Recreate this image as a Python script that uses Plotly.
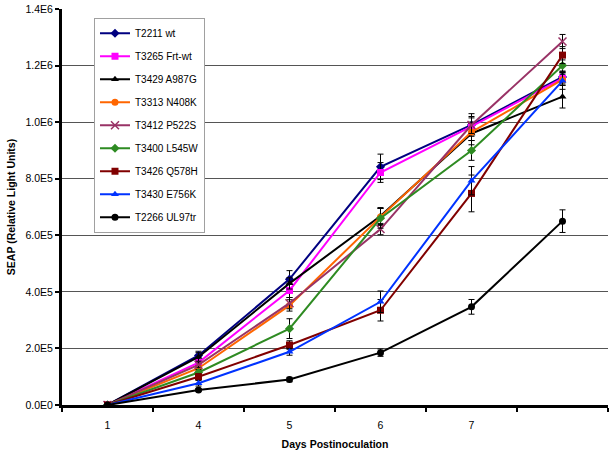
import plotly.graph_objects as go

days = [1, 4, 5, 6, 7, 8]
day_labels = ["1", "4", "5", "6", "7", ""]

names = ["T2211 wt", "T3265 Frt-wt", "T3429 A987G", "T3313 N408K", "T3412 P522S",
         "T3400 L545W", "T3426 Q578H", "T3430 E756K", "T2266 UL97tr"]

t2211 = [0, 1.75e5, 4.45e5, 8.42e5, 9.90e5, 1.160e6]
t3265 = [0, 1.50e5, 4.05e5, 8.22e5, 9.85e5, 1.155e6]
t3429 = [0, 1.70e5, 4.30e5, 6.68e5, 9.60e5, 1.090e6]
t3313 = [0, 1.30e5, 3.52e5, 6.65e5, 9.65e5, 1.150e6]
t3412 = [0, 1.42e5, 3.60e5, 6.22e5, 9.90e5, 1.285e6]
t3400 = [0, 1.15e5, 2.70e5, 6.60e5, 9.00e5, 1.200e6]
t3426 = [0, 1.00e5, 2.12e5, 3.35e5, 7.48e5, 1.237e6]
t3430 = [0, 7.7e4, 1.88e5, 3.65e5, 7.93e5, 1.146e6]
t2266 = [0, 5.3e4, 9.0e4, 1.85e5, 3.47e5, 6.50e5]

e2211 = [0, 1.5e4, 3.0e4, 4.5e4, 4.0e4, 2.0e4]
e3265 = [0, 1.0e4, 2.5e4, 3.5e4, 3.0e4, 2.0e4]
e3429 = [0, 1.5e4, 2.0e4, 3.0e4, 4.0e4, 4.0e4]
e3313 = [0, 1.0e4, 2.0e4, 3.0e4, 3.0e4, 2.0e4]
e3412 = [0, 1.0e4, 2.0e4, 2.0e4, 3.0e4, 2.5e4]
e3400 = [0, 1.0e4, 3.5e4, 3.5e4, 3.5e4, 2.0e4]
e3426 = [0, 1.0e4, 1.5e4, 3.8e4, 6.5e4, 3.0e4]
e3430 = [0, 1.0e4, 1.2e4, 3.8e4, 5.0e4, 3.0e4]
e2266 = [0, 5.0e3, 8.0e3, 1.3e4, 2.6e4, 4.0e4]

series = [t2211, t3265, t3429, t3313, t3412, t3400, t3426, t3430, t2266]
errors = [e2211, e3265, e3429, e3313, e3412, e3400, e3426, e3430, e2266]
colors = ["#000080", "#FF00FF", "#000000", "#FF6600", "#993366",
          "#2E8B22", "#800000", "#0033FF", "#000000"]
symbols = ["diamond", "square", "triangle-up", "circle", "x-thin-open",
           "diamond", "square", "triangle-up", "circle"]

y_ticks = [0, 2e5, 4e5, 6e5, 8e5, 1.0e6, 1.2e6, 1.4e6]
y_labels = ["0.0E0", "2.0E5", "4.0E5", "6.0E5", "8.0E5", "1.0E6", "1.2E6", "1.4E6"]

x_cat = [str(d) for d in days]

fig = go.Figure()
for i, (nm, ys, es, c, s) in enumerate(zip(names, series, errors, colors, symbols)):
    fig.add_trace(go.Scatter(
        x=x_cat, y=ys, name=nm, mode="lines+markers",
        legendgroup=nm,
        line=dict(color=c, width=2),
        marker=dict(symbol=s, size=7 if s != "x-thin-open" else 8, color=c,
                    line=dict(color=c, width=1.5 if s == "x-thin-open" else 0)),
        error_y=dict(type="data", array=es, visible=True, color="#000000",
                     thickness=1, width=3),
    ))

fig.update_layout(
    width=614, height=455,
    margin=dict(l=62, r=6, t=9, b=50),
    paper_bgcolor="white", plot_bgcolor="white",
    font=dict(family="Liberation Sans, Arial, sans-serif", size=10.5, color="#000000"),
    showlegend=True,
    legend=dict(x=0.0586, y=0.978, xanchor="left", yanchor="top",
                bgcolor="white", bordercolor="#A0A0A0", borderwidth=1,
                font=dict(size=10), tracegroupgap=4, itemwidth=30,
                entrywidth=80, entrywidthmode="pixels"),
    xaxis=dict(type="category", categoryorder="array", categoryarray=x_cat,
               tickvals=x_cat, ticktext=day_labels, tickson="boundaries",
               ticks="outside", ticklen=4, tickwidth=2, tickcolor="#000000",
               ticklabelstandoff=8,
               showline=True, linecolor="#000000", linewidth=3,
               showgrid=False, zeroline=False, automargin=False,
               title=dict(text="<b>Days Postinoculation</b>", standoff=12,
                          font=dict(size=10.5)),
               range=[-0.5, 5.5]),
    yaxis=dict(range=[0, 1.4e6], tickvals=y_ticks, ticktext=y_labels,
               ticks="outside", ticklen=4, tickwidth=2, tickcolor="#000000",
               showline=True, linecolor="#000000", linewidth=3,
               showgrid=True, gridcolor="#555555", gridwidth=1, zeroline=False,
               automargin=False,
               title=dict(text="<b>SEAP (Relative Light Units)</b>", standoff=8,
                          font=dict(size=10.5))),
)

fig.write_html("out.html", config={"displayModeBar": False},
               post_script="document.body.style.margin='0';")
